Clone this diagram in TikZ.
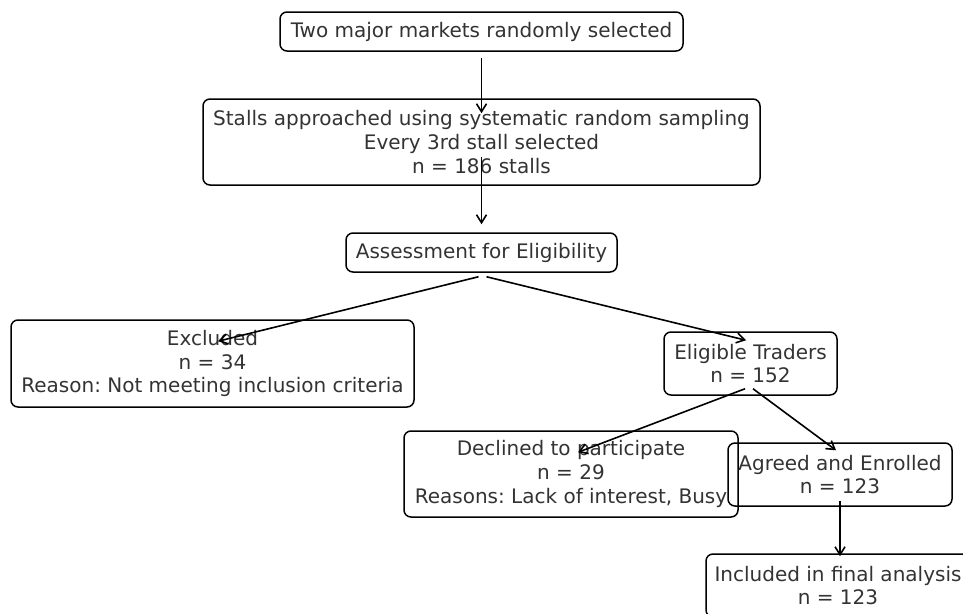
\documentclass[tikz,border=0pt]{standalone}
\usepackage{fontspec}
\setmainfont{DejaVu Sans}
\frenchspacing
\usetikzlibrary{arrows.meta}
\tikzset{
  flowbox/.style={draw, line width=1.5pt, rounded corners=7pt, align=center,
    inner sep=0pt, text=black!80, font=\fontsize{20}{23.8}\selectfont},
  flowarrow/.style={-{Straight Barb[length=8pt,width=10pt]}, line width=1.6pt}
}
\begin{document}
\begin{tikzpicture}[x=1pt,y=-1pt]
  \useasboundingbox (0,0) rectangle (963,613);

  \node[flowbox, minimum width=403pt, minimum height=39pt] (markets) at (481.5,31.5)
    {Two major markets randomly selected};
  \node[flowbox, minimum width=557pt, minimum height=86pt] (stalls) at (481.5,142)
    {Stalls approached using systematic random sampling\\Every 3rd stall selected\\n = 186 stalls};
  \node[flowbox, minimum width=271pt, minimum height=39pt] (assess) at (481.5,252.5)
    {Assessment for Eligibility};
  \node[flowbox, minimum width=403pt, minimum height=87pt] (excluded) at (212.5,363.5)
    {Excluded\\n = 34\\Reason: Not meeting inclusion criteria};
  \node[flowbox, minimum width=173pt, minimum height=63pt] (eligible) at (750.5,363.5)
    {Eligible Traders\\n = 152};
  \node[flowbox, minimum width=334pt, minimum height=86pt] (declined) at (571,474)
    {Declined to participate\\n = 29\\Reasons: Lack of interest, Busy};
  \node[flowbox, minimum width=224pt, minimum height=63pt] (agreed) at (840,474.5)
    {Agreed and Enrolled\\n = 123};
  \node[flowbox, minimum width=264pt, minimum height=63pt] (included) at (838,585.5)
    {Included in final analysis\\n = 123};

  \draw[flowarrow] ([yshift=-6pt]markets.south) -- ([yshift=-15pt]stalls.north);
  \draw[flowarrow] ([yshift=-15pt]stalls.center) -- ([yshift=8pt]assess.north);
  \draw[flowarrow] ([xshift=-3pt,yshift=-4pt]assess.south) -- ([xshift=5.5pt,yshift=-22pt]excluded.north);
  \draw[flowarrow] ([xshift=5pt,yshift=-4pt]assess.south) -- ([xshift=-4.5pt,yshift=-9pt]eligible.north);
  \draw[flowarrow] ([xshift=-5.5pt,yshift=7pt]eligible.south) -- ([xshift=7pt,yshift=-22pt]declined.north);
  \draw[flowarrow] ([xshift=2.5pt,yshift=7pt]eligible.south) -- ([xshift=-4pt,yshift=-8pt]agreed.north);
  \draw[flowarrow] ([yshift=6pt]agreed.south) -- ([xshift=2pt,yshift=-3pt]included.north);
\end{tikzpicture}
\end{document}
